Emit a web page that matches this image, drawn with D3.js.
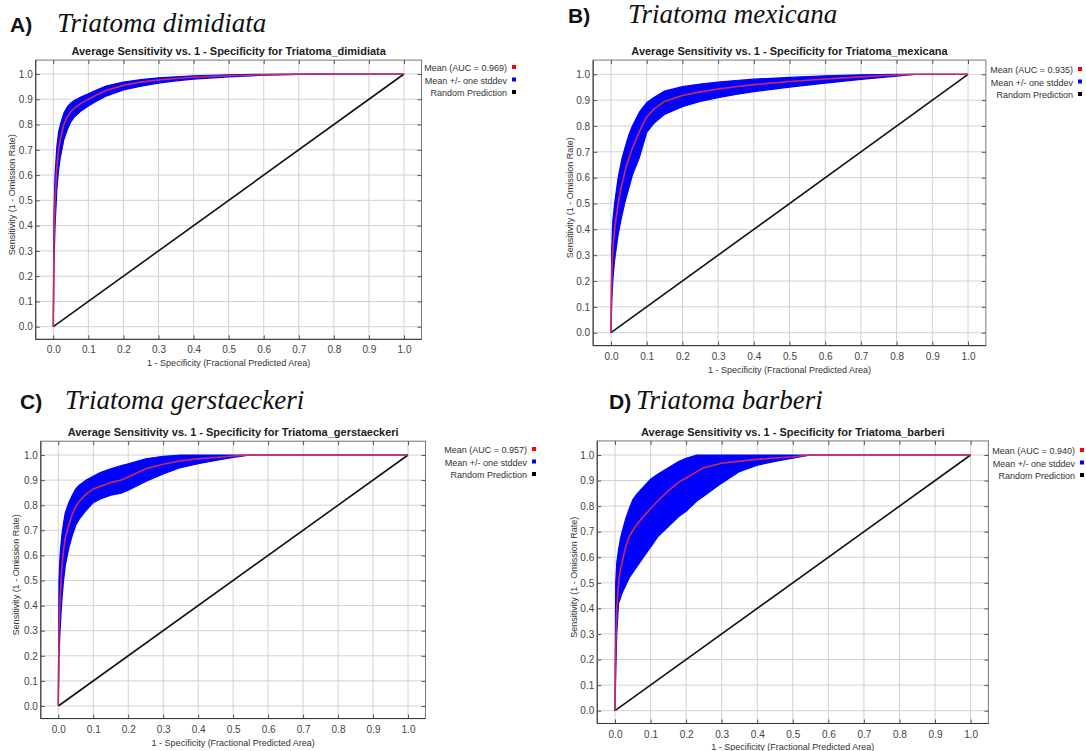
<!DOCTYPE html>
<html lang="en">
<head>
<meta charset="UTF-8">
<title>Average Sensitivity vs. 1 - Specificity, Triatoma</title>
<script src="https://cdnjs.cloudflare.com/ajax/libs/d3/7.8.5/d3.min.js"></script>
<style>
  body { margin: 0; background: #fff; }
  text { font-family: "Liberation Sans", Arial, sans-serif; }
</style>
</head>
<body>
<script>
// panel labels and legend values
var letters = ["A)", "B)", "C)", "D)"];
var species = ["dimidiata", "mexicana", "gerstaeckeri", "barberi"];
var aucValues = ["0.969", "0.935", "0.957", "0.940"];
var ticks = [0, 0.1, 0.2, 0.3, 0.4, 0.5, 0.6, 0.7, 0.8, 0.9, 1.0];
var randomX = [0, 1];
var randomY = [0, 1];

// A) Triatoma dimidiata
var fprA  = [0, 0.002, 0.005, 0.01, 0.015, 0.02, 0.03, 0.04, 0.05, 0.06, 0.08, 0.1, 0.12, 0.15, 0.2, 0.25, 0.3, 0.35, 0.4, 0.5, 0.6, 0.7, 0.8, 1.0];
var meanA = [0, 0.35, 0.5, 0.63, 0.7, 0.74, 0.8, 0.83, 0.85, 0.865, 0.885, 0.9, 0.915, 0.935, 0.955, 0.968, 0.976, 0.982, 0.987, 0.993, 0.997, 0.999, 1, 1];
var lowA  = [0, 0.25, 0.4, 0.54, 0.62, 0.67, 0.74, 0.78, 0.81, 0.83, 0.855, 0.873, 0.89, 0.912, 0.937, 0.952, 0.964, 0.973, 0.98, 0.989, 0.995, 0.998, 1, 1];
var highA = [0, 0.45, 0.6, 0.71, 0.77, 0.8, 0.845, 0.87, 0.885, 0.895, 0.91, 0.922, 0.935, 0.952, 0.968, 0.978, 0.985, 0.989, 0.993, 0.997, 0.999, 1, 1, 1];

// B) Triatoma mexicana
var fprB  = [0, 0.002, 0.005, 0.01, 0.02, 0.03, 0.04, 0.05, 0.06, 0.08, 0.1, 0.12, 0.15, 0.2, 0.25, 0.3, 0.35, 0.4, 0.5, 0.6, 0.7, 0.8, 0.85, 1.0];
var meanB = [0, 0.22, 0.32, 0.4, 0.5, 0.57, 0.63, 0.675, 0.715, 0.78, 0.835, 0.865, 0.895, 0.918, 0.932, 0.943, 0.952, 0.96, 0.972, 0.982, 0.99, 0.997, 1, 1];
var lowB  = [0, 0.12, 0.2, 0.28, 0.38, 0.45, 0.51, 0.56, 0.61, 0.68, 0.775, 0.81, 0.845, 0.875, 0.895, 0.91, 0.922, 0.933, 0.95, 0.966, 0.98, 0.993, 1, 1];
var highB = [0, 0.32, 0.43, 0.5, 0.6, 0.67, 0.72, 0.765, 0.8, 0.855, 0.89, 0.91, 0.935, 0.952, 0.962, 0.97, 0.976, 0.981, 0.988, 0.994, 0.998, 1, 1, 1];

// C) Triatoma gerstaeckeri
var fprC  = [0, 0.002, 0.005, 0.01, 0.015, 0.02, 0.03, 0.04, 0.05, 0.06, 0.08, 0.1, 0.12, 0.15, 0.18, 0.2, 0.25, 0.3, 0.35, 0.4, 0.45, 0.5, 0.55, 1.0];
var meanC = [0, 0.3, 0.42, 0.55, 0.62, 0.67, 0.72, 0.765, 0.795, 0.815, 0.845, 0.865, 0.875, 0.89, 0.9, 0.912, 0.945, 0.963, 0.977, 0.985, 0.99, 0.996, 1, 1];
var lowC  = [0, 0.2, 0.3, 0.42, 0.5, 0.56, 0.63, 0.68, 0.72, 0.745, 0.78, 0.81, 0.825, 0.84, 0.848, 0.86, 0.895, 0.925, 0.95, 0.965, 0.978, 0.99, 1, 1];
var highC = [0, 0.5, 0.6, 0.68, 0.73, 0.77, 0.81, 0.84, 0.865, 0.88, 0.9, 0.915, 0.93, 0.945, 0.958, 0.965, 0.985, 0.995, 1, 1, 1, 1, 1, 1];

// D) Triatoma barberi
var fprD  = [0, 0.002, 0.005, 0.01, 0.015, 0.02, 0.03, 0.04, 0.05, 0.06, 0.08, 0.1, 0.12, 0.15, 0.18, 0.2, 0.23, 0.25, 0.3, 0.35, 0.4, 0.45, 0.5, 0.55, 1.0];
var meanD = [0, 0.25, 0.4, 0.5, 0.55, 0.58, 0.64, 0.68, 0.705, 0.725, 0.76, 0.79, 0.82, 0.86, 0.895, 0.91, 0.935, 0.95, 0.968, 0.976, 0.983, 0.988, 0.993, 1, 1];
var lowD  = [0, 0.15, 0.3, 0.42, 0.44, 0.46, 0.49, 0.52, 0.54, 0.56, 0.6, 0.64, 0.68, 0.72, 0.76, 0.78, 0.82, 0.84, 0.89, 0.935, 0.96, 0.975, 0.988, 1, 1];
var highD = [0, 0.5, 0.58, 0.63, 0.67, 0.7, 0.75, 0.79, 0.825, 0.845, 0.875, 0.905, 0.925, 0.95, 0.975, 0.987, 1, 1, 1, 1, 1, 1, 1, 1, 1];

var series = [
  {fpr: fprA, mean: meanA, low: lowA, high: highA},
  {fpr: fprB, mean: meanB, low: lowB, high: highB},
  {fpr: fprC, mean: meanC, low: lowC, high: highC},
  {fpr: fprD, mean: meanD, low: lowD, high: highD}
];

// where each panel sits (pixel positions of 0 and 1 on each axis)
var layout = [
  {x0: 53.3, x1: 404,   y0: 326.7, y1: 74,    head: [10, 57, 32],   legX: 507,  legY: 71,  ylabX: 15},
  {x0: 611,  x1: 968,   y0: 332.7, y1: 74.3,  head: [568, 628, 23], legX: 1073, legY: 73,  ylabX: 573},
  {x0: 58.3, x1: 408,   y0: 706,   y1: 455,   head: [20, 65, 409],  legX: 527,  legY: 453, ylabX: 19},
  {x0: 615,  x1: 970.6, y0: 710.7, y1: 455,   head: [609, 636, 409],legX: 1075, legY: 454, ylabX: 577}
];

var svg = d3.select("body").append("svg")
  .attr("width", 1086)
  .attr("height", 751);

function drawPanel(i) {
  var p = layout[i], s = series[i];
  var x = d3.scaleLinear().domain([0, 1]).range([p.x0, p.x1]);
  var y = d3.scaleLinear().domain([0, 1]).range([p.y0, p.y1]);
  var left = x(-0.05), right = x(1.05), top = y(1.055), bottom = y(-0.05);
  var g = svg.append("g");

  // header, e.g. "A)  Triatoma dimidiata"
  g.append("text").attr("x", p.head[0]).attr("y", p.head[2])
    .text(letters[i])
    .style("font-size", "21px").style("font-weight", "bold").style("fill", "#111");
  g.append("text").attr("x", p.head[1]).attr("y", p.head[2])
    .text("Triatoma " + species[i])
    .style("font-family", "'Liberation Serif', 'Times New Roman', serif")
    .style("font-style", "italic").style("font-size", "27px").style("fill", "#111");

  // chart title
  g.append("text").attr("x", (left + right) / 2).attr("y", top - 5)
    .attr("text-anchor", "middle")
    .text("Average Sensitivity vs. 1 - Specificity for Triatoma_" + species[i])
    .style("font-size", "11px").style("font-weight", "bold").style("fill", "#222");

  // grid
  g.selectAll(".gx").data(ticks).enter().append("line")
    .attr("x1", function(d) { return x(d); }).attr("x2", function(d) { return x(d); })
    .attr("y1", top).attr("y2", bottom)
    .style("stroke", "#d2d2d2");
  g.selectAll(".gy").data(ticks).enter().append("line")
    .attr("y1", function(d) { return y(d); }).attr("y2", function(d) { return y(d); })
    .attr("x1", left).attr("x2", right)
    .style("stroke", "#d2d2d2");

  // std dev band
  var rows = s.fpr.map(function(f, k) { return [f, s.low[k], s.high[k], s.mean[k]]; });
  var band = d3.area()
    .x(function(d) { return x(d[0]); })
    .y0(function(d) { return y(d[1]); })
    .y1(function(d) { return y(d[2]); });
  g.append("path").datum(rows).attr("d", band)
    .style("fill", "#0000ff").style("stroke", "#0000ff").style("stroke-width", 1.2);

  // random prediction
  g.append("line")
    .attr("x1", x(randomX[0])).attr("y1", y(randomY[0]))
    .attr("x2", x(randomX[1])).attr("y2", y(randomY[1]))
    .style("stroke", "#111").style("stroke-width", 1.6);

  // mean curve
  var line = d3.line()
    .x(function(d) { return x(d[0]); })
    .y(function(d) { return y(d[3]); });
  g.append("path").datum(rows).attr("d", line)
    .style("fill", "none").style("stroke", "#d0285a").style("stroke-width", 1.6);

  // frame
  g.append("rect").attr("x", left).attr("y", top)
    .attr("width", right - left).attr("height", bottom - top)
    .style("fill", "none").style("stroke", "#777");
  g.append("path")
    .attr("d", "M" + left + "," + top + "V" + bottom + "H" + right)
    .style("fill", "none").style("stroke", "#333");

  var fmt = d3.format(".1f");
  var axB = g.append("g").attr("transform", "translate(0," + bottom + ")")
    .call(d3.axisBottom(x).tickValues(ticks).tickSize(-4).tickPadding(7).tickFormat(fmt));
  var axL = g.append("g").attr("transform", "translate(" + left + ",0)")
    .call(d3.axisLeft(y).tickValues(ticks).tickSize(-4).tickPadding(3).tickFormat(fmt));
  var axT = g.append("g").attr("transform", "translate(0," + top + ")")
    .call(d3.axisTop(x).tickValues(ticks).tickSize(-4).tickFormat(""));
  var axR = g.append("g").attr("transform", "translate(" + right + ",0)")
    .call(d3.axisRight(y).tickValues(ticks).tickSize(-4).tickFormat(""));
  [axB, axL, axT, axR].forEach(function(a) {
    a.select(".domain").remove();
    a.selectAll("line").style("stroke", "#555");
    a.selectAll("text").style("font-size", "10px").style("fill", "#444")
      .style("font-family", "'Liberation Sans', Arial, sans-serif");
  });

  // axis labels
  g.append("text").attr("x", (left + right) / 2).attr("y", bottom + 27)
    .attr("text-anchor", "middle")
    .text("1 - Specificity (Fractional Predicted Area)")
    .style("font-size", "9px").style("fill", "#333");
  g.append("text")
    .attr("transform", "translate(" + p.ylabX + "," + ((top + bottom) / 2 - 5) + ") rotate(-90)")
    .attr("text-anchor", "middle")
    .text("Sensitivity (1 - Omission Rate)")
    .style("font-size", "9px").style("fill", "#333");

  // legend
  var legend = [
    {label: "Mean (AUC = " + aucValues[i] + ")", color: "#ff0000"},
    {label: "Mean +/- one stddev", color: "#0000ff"},
    {label: "Random Prediction", color: "#000000"}
  ];
  legend.forEach(function(l, k) {
    g.append("text").attr("x", p.legX).attr("y", p.legY + k * 12.5)
      .attr("text-anchor", "end").text(l.label)
      .style("font-size", "9px").style("fill", "#333");
    g.append("rect").attr("x", p.legX + 5).attr("y", p.legY + k * 12.5 - 6)
      .attr("width", 4).attr("height", 4).style("fill", l.color);
  });
}

for (var i = 0; i < 4; i++) drawPanel(i);
</script>
</body>
</html>
